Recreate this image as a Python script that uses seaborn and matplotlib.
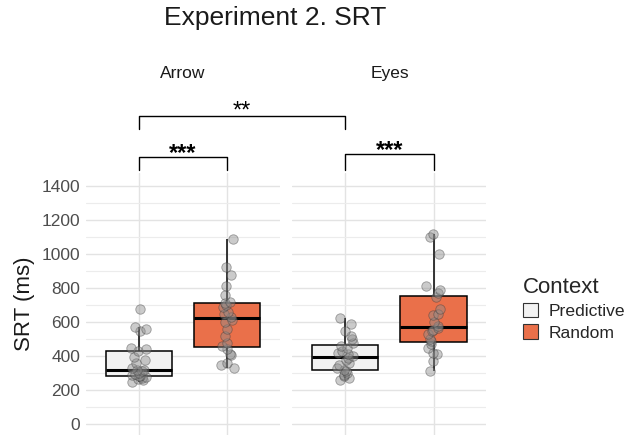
import numpy as np
import pandas as pd
import matplotlib.pyplot as plt
import seaborn as sns
from matplotlib.patches import Patch

# SRT values (ms), one list per cue x context
cues = ['Arrow', 'Eyes']
contexts = ['Predictive', 'Random']
arrow_predictive = [250, 258, 265, 270, 275, 280, 283, 287, 292, 300, 310, 316,
                    320, 330, 360, 375, 395, 430, 440, 450, 545, 560, 572, 680]
arrow_random = [330, 345, 360, 405, 415, 440, 460, 475, 520, 560, 600, 615,
                630, 645, 660, 690, 700, 710, 720, 760, 815, 880, 925, 1090]
eyes_predictive = [258, 268, 280, 290, 300, 310, 320, 330, 345, 360, 375, 390,
                   402, 410, 420, 430, 445, 460, 475, 500, 520, 545, 590, 625]
eyes_random = [312, 370, 410, 420, 450, 470, 488, 500, 530, 545, 555, 565,
               580, 600, 640, 650, 680, 750, 770, 790, 810, 1000, 1100, 1119]
y_ticks = [0, 200, 400, 600, 800, 1000, 1200, 1400]

# significance labels
within_stars = {'Arrow': '***', 'Eyes': '***'}
between_stars = '**'

palette = {'Predictive': '#F2F2F2', 'Random': '#EA704A'}

groups = {('Arrow', 'Predictive'): arrow_predictive, ('Arrow', 'Random'): arrow_random,
          ('Eyes', 'Predictive'): eyes_predictive, ('Eyes', 'Random'): eyes_random}
rows = []
for (cue, ctx), vals in groups.items():
    for v in vals:
        rows.append({'Cue': cue, 'Context': ctx, 'SRT': v})
df = pd.DataFrame(rows)

sns.set_theme(style='whitegrid')
plt.rcParams['font.family'] = ['Liberation Sans', 'DejaVu Sans']

fig = plt.figure(figsize=(6.4, 4.42), dpi=100)
np.random.seed(7)  # jitter only
axes = [fig.add_axes([0.1344, 0.0158, 0.303, 0.593]),
        fig.add_axes([0.457, 0.0158, 0.303, 0.593])]
ylim = (-65, 1479)

for ax, cue in zip(axes, cues):
    sub = df[df.Cue == cue]
    sns.boxplot(data=sub, x='Context', y='SRT', hue='Context', order=contexts,
                hue_order=contexts, palette=palette, saturation=1, width=0.75,
                showfliers=False, showcaps=False, linecolor='black', linewidth=1.1,
                legend=False, medianprops={'linewidth': 2.2}, ax=ax, zorder=2)
    sns.stripplot(data=sub, x='Context', y='SRT', order=contexts, color='#8c8c8c',
                  alpha=0.45, size=6.8, jitter=0.09, edgecolor='#3a3a3a',
                  linewidth=0.6, ax=ax, zorder=3)
    ax.set_xlim(-0.6, 1.6)
    ax.set_ylim(*ylim)
    ax.set_yticks(y_ticks)
    ax.set_yticks(np.arange(100, 1500, 200), minor=True)
    ax.grid(True, which='major', color='#e3e3e3', linewidth=1.0)
    ax.grid(True, which='minor', axis='y', color='#ececec', linewidth=0.8)
    ax.set_axisbelow(True)
    ax.set_facecolor('white')
    for s in ax.spines.values():
        s.set_visible(False)
    ax.set_xlabel('')
    ax.set_xticklabels([])
    ax.tick_params(axis='both', length=0, labelsize=12.5, labelcolor='#4d4d4d', pad=4)
    ax.text(0.5, 2065, cue, ha='center', va='center', fontsize=12.5,
            color='#1a1a1a', clip_on=False)
    # within-cue bracket
    top = 1575 if cue == 'Arrow' else 1590
    ax.plot([0, 0, 1, 1], [1497, top, top, 1497], color='black', lw=1.0, clip_on=False)
    ax.text(0.5, top + 20, within_stars[cue], ha='center', va='center',
            fontsize=17, fontweight='bold', color='black', clip_on=False)

axes[0].set_ylabel('SRT (ms)', fontsize=16, color='#1a1a1a', labelpad=5)
axes[1].set_ylabel('')
axes[1].set_yticklabels([])

# between-cue bracket (Predictive Arrow vs Predictive Eyes)
fig.canvas.draw()
inv = fig.transFigure.inverted()
x_l = inv.transform(axes[0].transData.transform((0, 0)))[0]
x_r = inv.transform(axes[1].transData.transform((0, 0)))[0]
y_low = inv.transform(axes[0].transData.transform((0, 1738)))[1]
y_high = inv.transform(axes[0].transData.transform((0, 1817)))[1]
y_txt = inv.transform(axes[0].transData.transform((0, 1840)))[1]
fig.add_artist(plt.Line2D([x_l, x_l, x_r, x_r], [y_low, y_high, y_high, y_low],
                          color='black', lw=1.0, transform=fig.transFigure))
fig.text((x_l + x_r) / 2, y_txt, between_stars, ha='center', va='center',
         fontsize=17, color='black')

fig.text(275 / 640, 1 - 18 / 442, 'Experiment 2. SRT', ha='center', va='center',
         fontsize=19, color='#1a1a1a')

handles = [Patch(facecolor=palette[c], edgecolor='#333333', linewidth=0.8, label=c)
           for c in contexts]
leg = fig.legend(handles=handles, title='Context', loc='upper left',
                 bbox_to_anchor=(0.792, 0.41), frameon=False, fontsize=12.6,
                 title_fontsize=16, handlelength=0.9, handleheight=0.9,
                 handletextpad=0.6, labelspacing=0.3)
leg._legend_box.align = 'left'

fig.savefig('out.png', dpi=100)
